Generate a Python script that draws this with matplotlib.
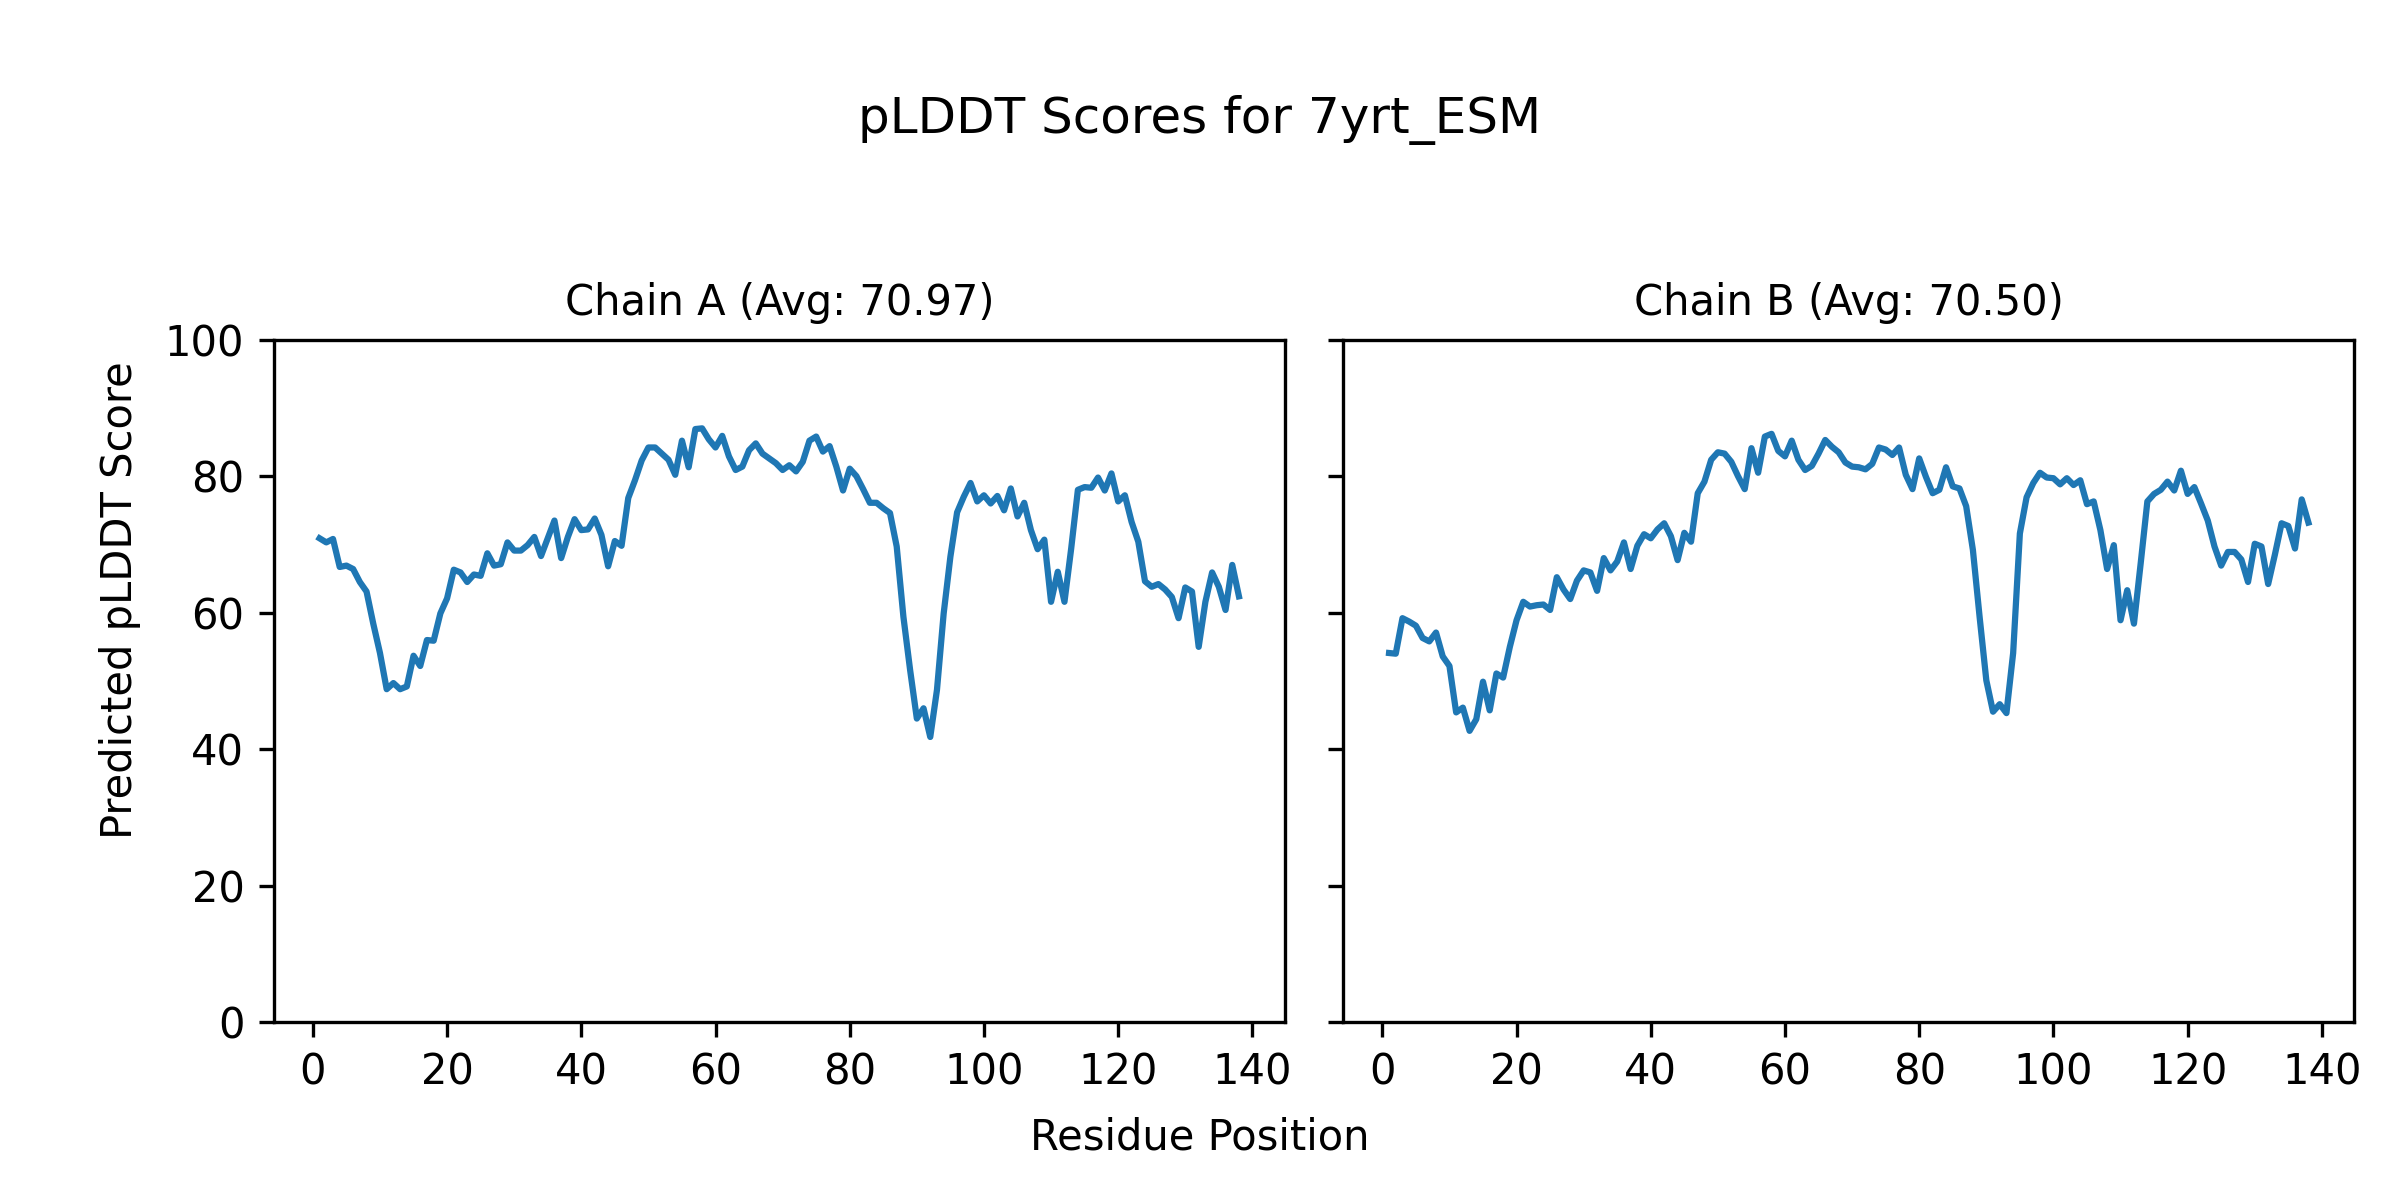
import matplotlib
matplotlib.use("Agg")
import matplotlib.pyplot as plt

# pLDDT values per residue
chain_a_scores = [
    70.9, 70.3, 70.8, 66.7, 66.9, 66.4, 64.5, 63.1, 58.4, 54.1,
    48.8, 49.7, 48.8, 49.2, 53.7, 52.2, 56.0, 55.9, 59.9, 62.1,
    66.3, 65.9, 64.5, 65.6, 65.4, 68.7, 66.9, 67.1, 70.3, 69.1,
    69.1, 69.9, 71.1, 68.3, 70.9, 73.5, 68.0, 71.1, 73.7, 72.1,
    72.2, 73.8, 71.4, 66.8, 70.5, 69.8, 76.8, 79.4, 82.3, 84.2,
    84.2, 83.3, 82.4, 80.2, 85.2, 81.3, 86.9, 87.0, 85.4, 84.2,
    85.9, 82.9, 80.9, 81.4, 83.8, 84.8, 83.3, 82.6, 81.9, 80.9,
    81.6, 80.7, 82.1, 85.2, 85.8, 83.6, 84.4, 81.4, 77.9, 81.1,
    80.0, 78.1, 76.1, 76.1, 75.3, 74.6, 69.7, 59.4, 51.6, 44.5,
    46.0, 41.8, 48.7, 59.9, 68.2, 74.7, 77.0, 79.0, 76.3, 77.2,
    76.0, 77.1, 75.0, 78.2, 74.1, 76.1, 72.1, 69.3, 70.7, 61.6,
    66.0, 61.6, 69.4, 78.0, 78.4, 78.3, 79.8, 77.9, 80.4, 76.3,
    77.2, 73.3, 70.4, 64.6, 63.8, 64.2, 63.4, 62.3, 59.2, 63.7,
    63.1, 55.0, 61.6, 65.9, 63.8, 60.4, 67.0, 62.4,
]

chain_b_scores = [
    54.1, 54.0, 59.2, 58.7, 58.1, 56.3, 55.8, 57.1, 53.6, 52.2,
    45.4, 46.1, 42.7, 44.4, 49.9, 45.7, 51.1, 50.5, 55.0, 58.9,
    61.6, 60.9, 61.1, 61.2, 60.4, 65.2, 63.4, 62.0, 64.7, 66.2,
    65.9, 63.2, 68.0, 66.2, 67.5, 70.3, 66.4, 69.8, 71.5, 70.9,
    72.2, 73.1, 71.2, 67.7, 71.7, 70.4, 77.5, 79.2, 82.4, 83.5,
    83.3, 82.1, 80.0, 78.1, 84.1, 80.5, 85.8, 86.2, 83.7, 82.9,
    85.2, 82.4, 80.9, 81.5, 83.3, 85.3, 84.3, 83.5, 82.0, 81.4,
    81.3, 81.0, 81.8, 84.2, 83.9, 83.1, 84.2, 80.2, 78.1, 82.6,
    79.9, 77.5, 78.0, 81.3, 78.5, 78.2, 75.6, 69.2, 59.4, 50.1,
    45.5, 46.6, 45.3, 54.1, 71.6, 76.9, 79.0, 80.5, 79.8, 79.7,
    78.8, 79.7, 78.7, 79.4, 75.9, 76.3, 72.1, 66.4, 69.9, 58.9,
    63.3, 58.4, 67.2, 76.3, 77.4, 78.0, 79.2, 77.9, 80.8, 77.4,
    78.4, 76.0, 73.5, 69.7, 66.9, 68.9, 68.9, 67.8, 64.5, 70.1,
    69.7, 64.2, 68.5, 73.1, 72.7, 69.4, 76.6, 73.2,
]

chain_names = ["A", "B"]
chain_avgs = [70.97, 70.50]


def main():
    fig, axes = plt.subplots(1, 2, figsize=(8, 4), dpi=300, sharey=True)
    fig.subplots_adjust(left=0.114, right=0.981, top=0.717, bottom=0.148, wspace=0.0575)

    for ax, name, avg, scores in zip(axes, chain_names, chain_avgs,
                                     [chain_a_scores, chain_b_scores]):
        positions = list(range(1, len(scores) + 1))
        ax.plot(positions, scores, color="#1f77b4", linewidth=1.5)
        ax.set_title(f"Chain {name} (Avg: {avg:.2f})", fontsize=10)
        ax.set_ylim(0, 100)
        ax.set_xticks([0, 20, 40, 60, 80, 100, 120, 140])

    # shared labels sit at figure level
    fig.suptitle("pLDDT Scores for 7yrt_ESM", fontsize=12, x=0.5, y=0.921, va="top")
    fig.text(0.5, 0.052, "Residue Position", ha="center", va="center", fontsize=10)
    fig.text(0.05, 0.5, "Predicted pLDDT Score", ha="center", va="center",
             rotation="vertical", fontsize=10)

    fig.savefig("out.png", dpi=300)


if __name__ == "__main__":
    main()
